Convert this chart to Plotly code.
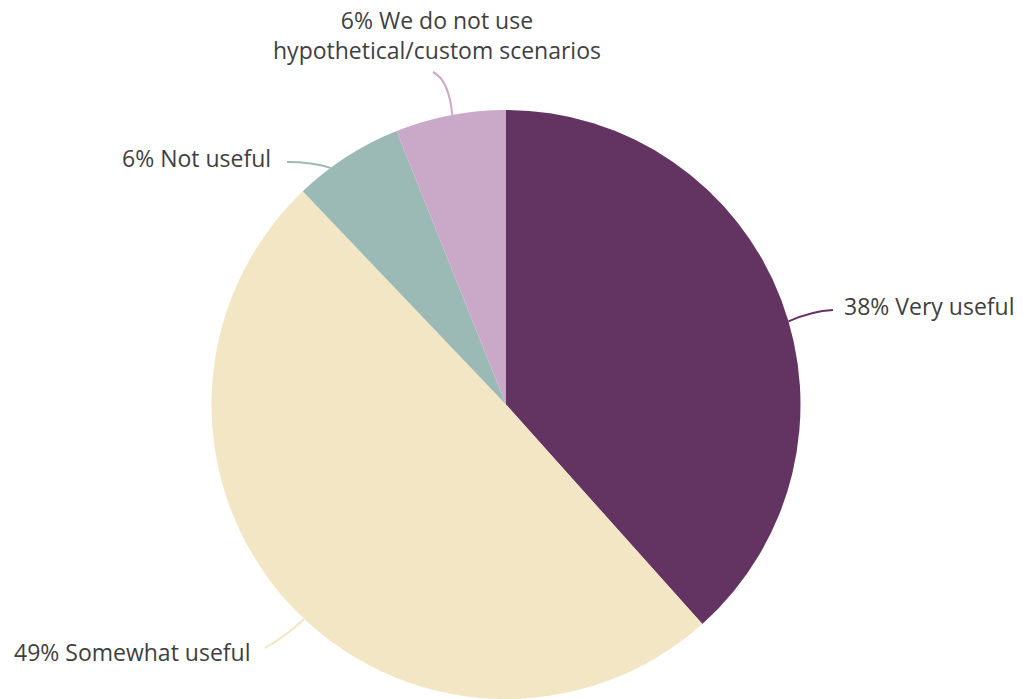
import math
import plotly.graph_objects as go

# Survey responses: usefulness of hypothetical/custom scenarios
categories = ["Very useful", "Somewhat useful", "Not useful",
              "We do not use hypothetical/custom scenarios"]
shares = [38, 49, 6, 6]
label_texts = ["38% Very useful", "49% Somewhat useful", "6% Not useful",
               "6% We do not use<br>hypothetical/custom scenarios"]
colors = ["#633461", "#F2E6C4", "#9BB9B5", "#C9A9C7"]

W, H = 1023, 699
CX, CY, R = 506, 404.5, 294.5          # pie centre / radius in pixels
TEXT_COLOR = "#3f3f3f"
FONT = "Open Sans"

# label placement (pixels): text anchor point, outer end of leader, bend point,
# and how far (degrees) the leader's root sits from the slice's mid-angle
label_layout = [
    dict(x=842, y=306, xanchor="left", end=(833, 310), bend=(812, 311), shift=4.5),
    dict(x=12, y=652, xanchor="left", end=(265, 648), bend=(286, 636), shift=-4.0),
    dict(x=120, y=158, xanchor="left", end=(287, 162), bend=(312, 162), shift=-3.8),
    dict(x=437, y=35, xanchor="center", end=(433, 72), bend=(449, 80), shift=0.4),
]

fig = go.Figure(go.Pie(
    labels=categories,
    values=shares,
    marker=dict(colors=colors, line=dict(width=0)),
    sort=False,
    direction="clockwise",
    rotation=0,
    textinfo="none",
    hoverinfo="label+percent",
    showlegend=False,
    domain=dict(x=[(CX - R) / W, (CX + R) / W], y=[0, 2 * R / H]),
))


def px(x):
    return x / W


def py(y):
    return 1 - y / H


total = sum(shares)
cum = 0
shapes, annotations = [], []
for val, txt, col, lay in zip(shares, label_texts, colors, label_layout):
    mid = (cum + val / 2) / total * 2 * math.pi + math.radians(lay["shift"])
    cum += val
    sx = CX + R * math.sin(mid)
    sy = CY - R * math.cos(mid)
    ex, ey = lay["end"]
    bx, by = lay["bend"]
    shapes.append(dict(
        type="path", xref="paper", yref="paper",
        path=f"M {px(sx)} {py(sy)} Q {px(bx)} {py(by)} {px(ex)} {py(ey)}",
        line=dict(color=col, width=2),
    ))
    annotations.append(dict(
        x=px(lay["x"]), y=py(lay["y"]), xref="paper", yref="paper",
        text=txt, showarrow=False, xanchor=lay["xanchor"], yanchor="middle",
        align="center", font=dict(family=FONT, size=23, color=TEXT_COLOR),
    ))

fig.update_layout(
    width=W, height=H,
    margin=dict(l=0, r=0, t=0, b=0),
    paper_bgcolor="white", plot_bgcolor="white",
    shapes=shapes, annotations=annotations,
)

fig.write_html("out.html")
